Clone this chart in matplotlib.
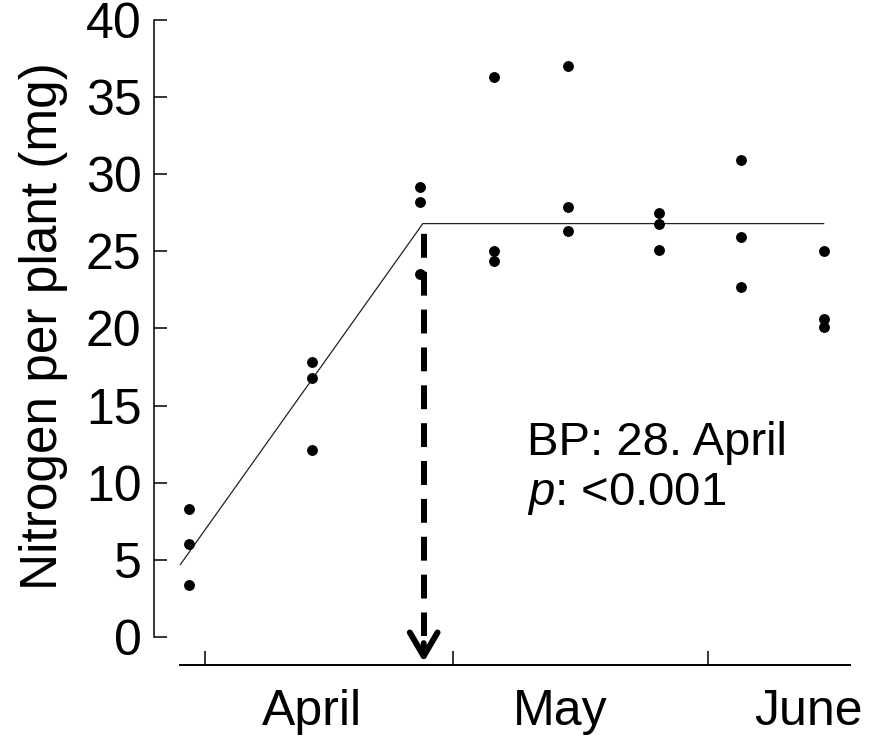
import matplotlib
matplotlib.use("Agg")
import matplotlib.pyplot as plt
import matplotlib.transforms as mtransforms

plt.rcParams['font.family'] = ['Liberation Sans', 'DejaVu Sans']
plt.rcParams['mathtext.fontset'] = 'custom'
plt.rcParams['mathtext.rm'] = 'Liberation Sans'
plt.rcParams['mathtext.it'] = 'Liberation Sans:italic'

# sampling dates (day of year) and three plants per date
days = [89, 104, 117, 126, 135, 146, 156, 166]
n_rep1 = [8.3, 17.8, 29.2, 36.3, 37.0, 27.5, 30.9, 25.0]
n_rep2 = [6.0, 16.8, 28.2, 25.0, 27.9, 26.8, 25.9, 20.6]
n_rep3 = [3.4, 12.1, 23.5, 24.4, 26.3, 25.1, 22.7, 20.1]

# broken-stick fit
fit_x = [88, 117.4, 166]
fit_y = [4.7, 26.8, 26.8]
bp_day = 117.5

month_starts = [91, 121, 152]
month_names = ['April', 'May', 'June']
month_label_pos = [104, 134, 164.2]

fig = plt.figure(figsize=(8.73, 7.37), dpi=100)
ax = fig.add_axes([0.1764, 0.1357, 0.7973, 0.8372])

ax.plot(fit_x, fit_y, color='#222222', lw=0.9, zorder=2)
for reps in (n_rep1, n_rep2, n_rep3):
    ax.plot(days, reps, 'o', color='black', markersize=6.8, zorder=3)

# dashed arrow at the breakpoint
ax.plot([bp_day, bp_day], [fit_y[1], 0.05], color='black', lw=4.3,
        linestyle=(4.69, (4.0, 2.34)), solid_capstyle='butt', clip_on=False, zorder=2)
ax.annotate('', xy=(bp_day, -1.62), xytext=(bp_day, -0.4),
            arrowprops=dict(arrowstyle='->, head_length=1.7, head_width=1.0',
                            lw=4.3, color='black', shrinkA=0, shrinkB=0,
                            mutation_scale=10),
            annotation_clip=False)

ax.text(130.05, 11.8, 'BP: 28. April', fontsize=34)
ax.text(130.05, 8.56, '$p$: <0.001', fontsize=34)

ax.set_xlim(84.8, 169.2)
ax.set_ylim(0, 40)
ax.set_yticks(range(0, 41, 5))
ax.set_xticks(month_starts)
ax.set_xticklabels([])

for s in ['top', 'right']:
    ax.spines[s].set_visible(False)
ax.spines['left'].set_linewidth(1.1)
ax.spines['bottom'].set_linewidth(1.4)
ax.spines['bottom'].set_position(('outward', 20.2))
ax.spines['bottom'].set_bounds(88, 169.2)

ax.tick_params(axis='y', direction='in', length=9.4, width=1.1, labelsize=36, pad=9)
ax.tick_params(axis='x', direction='in', length=10, width=1.1)

trans = mtransforms.blended_transform_factory(ax.transData, ax.transAxes)
for pos, name in zip(month_label_pos, month_names):
    ax.text(pos, -0.1426, name, transform=trans, ha='center', va='baseline', fontsize=36)

fig.text(0.0504, 0.5577, 'Nitrogen per plant (mg)', rotation=90,
         ha='center', va='center', fontsize=37)

fig.savefig('out.png', dpi=100)
